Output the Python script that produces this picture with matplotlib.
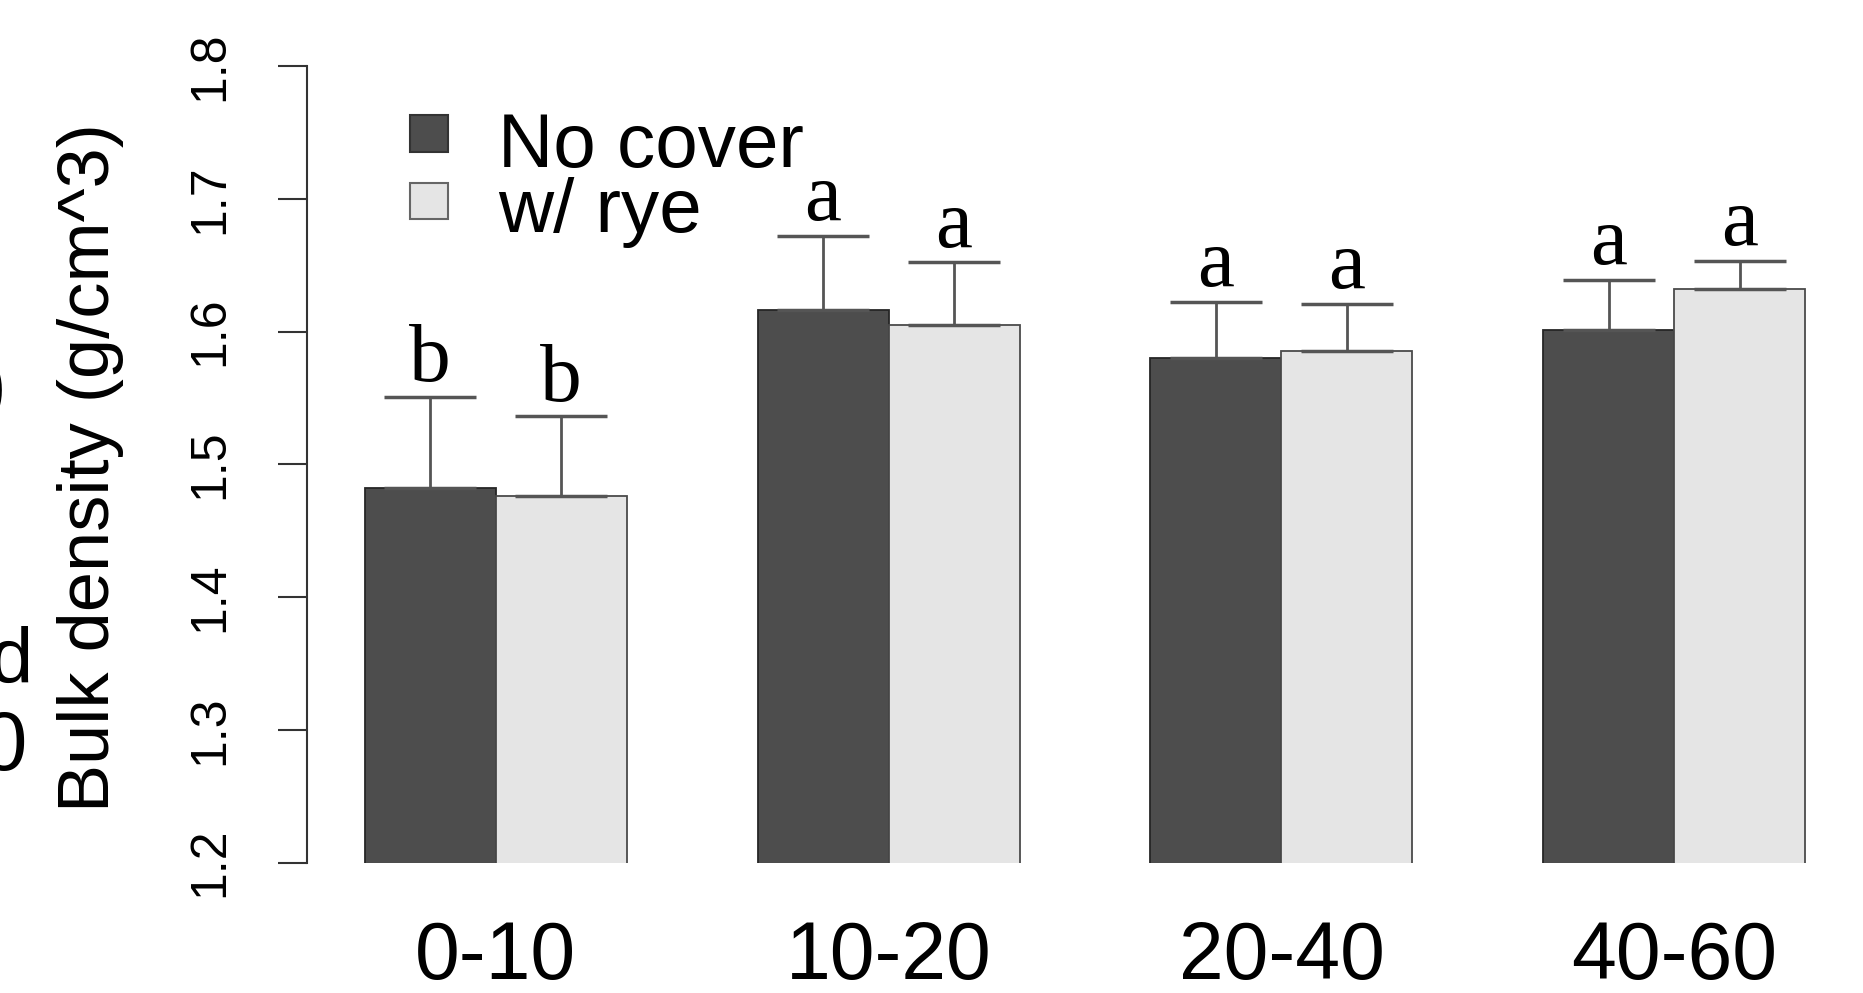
import numpy as np
import matplotlib
matplotlib.use('Agg')
import matplotlib.pyplot as plt
from matplotlib.patches import Rectangle

# ============= data ============================================
depths = ['0-10', '10-20', '20-40', '40-60']
no_cover = [1.482, 1.616, 1.580, 1.601]
no_cover_se = [0.069, 0.056, 0.042, 0.038]
rye = [1.476, 1.605, 1.585, 1.632]
rye_se = [0.060, 0.047, 0.036, 0.021]
letters_no_cover = ['b', 'a', 'a', 'a']
letters_rye = ['b', 'a', 'a', 'a']
series_names = ['No cover', 'w/ rye']

dark = '#4d4d4d'
light = '#e5e5e5'
W, H = 1863, 993


def fx(px):
    return px / W


def fy(py):
    return 1 - py / H


fig = plt.figure(figsize=(W / 100, H / 100), dpi=100)
ax = fig.add_axes([fx(307), fy(862.5), 1 - fx(307), fy(66) - fy(862.5)])

# barplot(beside=TRUE, space=c(0,1)) layout
grp = np.arange(len(depths)) * 3
x_nc = grp + 1.5
x_rye = grp + 2.5

ax.bar(x_nc, no_cover, width=1, color=dark, edgecolor='#262626', linewidth=1.3)
ax.bar(x_rye, rye, width=1, color=light, edgecolor='#4a4a4a', linewidth=1.3)

for xs, ys, es in [(x_nc, no_cover, no_cover_se), (x_rye, rye, rye_se)]:
    ax.errorbar(xs, ys, yerr=[np.zeros(len(es)), es], fmt='none',
                ecolor='#555555', elinewidth=2, capsize=33, capthick=2.5)

for xs, ys, es, labs in [(x_nc, no_cover, no_cover_se, letters_no_cover),
                         (x_rye, rye, rye_se, letters_rye)]:
    for xi, yi, ei, lb in zip(xs, ys, es, labs):
        ax.text(xi, yi + ei + 0.012, lb, ha='center', va='baseline',
                fontsize=60, family='Liberation Serif', color='black', clip_on=False)

ax.set_xlim(0.56, 12.44)
ax.set_ylim(1.2, 1.8)
for s in ['top', 'right', 'bottom']:
    ax.spines[s].set_visible(False)
ax.spines['left'].set_linewidth(1.5)
ax.spines['left'].set_color('#333333')

ax.set_yticks(np.arange(1.2, 1.81, 0.1))
ax.set_yticklabels([f'{v:.1f}' for v in np.arange(1.2, 1.81, 0.1)],
                   rotation=90, va='center', family='Liberation Sans', fontsize=36)
ax.tick_params(axis='y', length=21, width=1.5, color='#333333', pad=32)
ax.set_xticks([])

tr = ax.get_xaxis_transform()
for xi, lab in zip(grp + 2, depths):
    ax.text(xi, (862.5 - 979) / (862.5 - 66), lab, transform=tr, ha='center', va='baseline',
            fontsize=58, family='Liberation Sans', clip_on=False)

fig.text(fx(91), fy(468), 'Bulk density (g/cm^3)', rotation=90, ha='center', va='center',
         fontsize=52, family='Liberation Sans')

# legend
for (top, bot), col, ec, name, base in [((115, 152), dark, '#333333', series_names[0], 167),
                                        ((183, 219), light, '#666666', series_names[1], 232)]:
    fig.add_artist(Rectangle((fx(410), fy(bot)), fx(448) - fx(410), fy(top) - fy(bot),
                             transform=fig.transFigure, facecolor=col, edgecolor=ec, linewidth=1.5))
    fig.text(fx(498), fy(base), name, ha='left', va='baseline', fontsize=55,
             family='Liberation Sans')

# text of a neighbouring panel cut off at the left edge
fig.text(fx(6), fy(390), ')', ha='right', va='center', fontsize=58, family='Liberation Sans')
fig.text(fx(33), fy(683), 'd', ha='right', va='baseline', fontsize=56, family='Liberation Sans')
fig.text(fx(27), fy(770), '0', ha='right', va='baseline', fontsize=60, family='Liberation Sans')

plt.savefig('out.png', dpi=100)
